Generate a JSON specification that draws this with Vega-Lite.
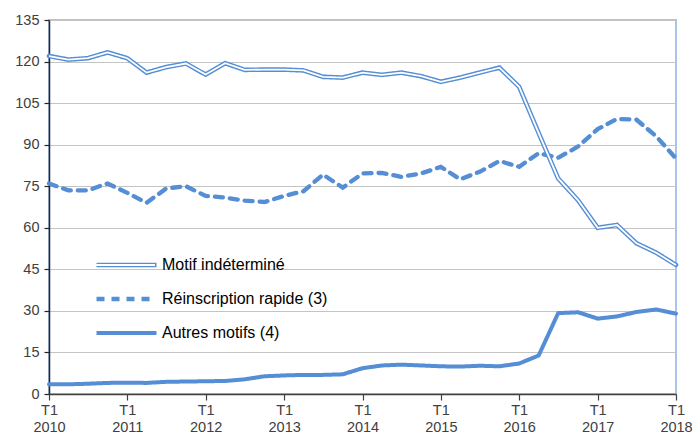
{
  "$schema": "https://vega.github.io/schema/vega-lite/v6.json",
  "width": 627,
  "height": 374,
  "autosize": {"type": "none"},
  "padding": {"left": 49, "top": 20, "right": 20, "bottom": 42},
  "background": "white",
  "config": {
    "font": "Liberation Sans",
    "view": {"stroke": "#a9c3ea", "strokeWidth": 2}
  },
  "data": {
    "values": [
      {"date": "2010-01-01", "Motif indéterminé": 122.0, "Réinscription rapide (3)": 76.0, "Autres motifs (4)": 3.5},
      {"date": "2010-04-01", "Motif indéterminé": 120.7, "Réinscription rapide (3)": 73.5, "Autres motifs (4)": 3.5},
      {"date": "2010-07-01", "Motif indéterminé": 121.2, "Réinscription rapide (3)": 73.5, "Autres motifs (4)": 3.7},
      {"date": "2010-10-01", "Motif indéterminé": 123.3, "Réinscription rapide (3)": 76.0, "Autres motifs (4)": 4.0},
      {"date": "2011-01-01", "Motif indéterminé": 121.2, "Réinscription rapide (3)": 72.6, "Autres motifs (4)": 4.1},
      {"date": "2011-04-01", "Motif indéterminé": 116.0, "Réinscription rapide (3)": 69.0, "Autres motifs (4)": 4.0},
      {"date": "2011-07-01", "Motif indéterminé": 118.0, "Réinscription rapide (3)": 74.2, "Autres motifs (4)": 4.4},
      {"date": "2011-10-01", "Motif indéterminé": 119.3, "Réinscription rapide (3)": 75.0, "Autres motifs (4)": 4.5},
      {"date": "2012-01-01", "Motif indéterminé": 115.3, "Réinscription rapide (3)": 71.5, "Autres motifs (4)": 4.6},
      {"date": "2012-04-01", "Motif indéterminé": 119.4, "Réinscription rapide (3)": 70.9, "Autres motifs (4)": 4.7},
      {"date": "2012-07-01", "Motif indéterminé": 117.0, "Réinscription rapide (3)": 69.8, "Autres motifs (4)": 5.3},
      {"date": "2012-10-01", "Motif indéterminé": 117.1, "Réinscription rapide (3)": 69.3, "Autres motifs (4)": 6.4},
      {"date": "2013-01-01", "Motif indéterminé": 117.1, "Réinscription rapide (3)": 71.5, "Autres motifs (4)": 6.7},
      {"date": "2013-04-01", "Motif indéterminé": 116.8, "Réinscription rapide (3)": 73.2, "Autres motifs (4)": 6.9},
      {"date": "2013-07-01", "Motif indéterminé": 114.5, "Réinscription rapide (3)": 79.2, "Autres motifs (4)": 6.9},
      {"date": "2013-10-01", "Motif indéterminé": 114.2, "Réinscription rapide (3)": 74.5, "Autres motifs (4)": 7.1},
      {"date": "2014-01-01", "Motif indéterminé": 116.0, "Réinscription rapide (3)": 79.6, "Autres motifs (4)": 9.3},
      {"date": "2014-04-01", "Motif indéterminé": 115.2, "Réinscription rapide (3)": 79.8, "Autres motifs (4)": 10.3},
      {"date": "2014-07-01", "Motif indéterminé": 116.0, "Réinscription rapide (3)": 78.4, "Autres motifs (4)": 10.6},
      {"date": "2014-10-01", "Motif indéterminé": 114.7, "Réinscription rapide (3)": 79.6, "Autres motifs (4)": 10.3},
      {"date": "2015-01-01", "Motif indéterminé": 112.7, "Réinscription rapide (3)": 82.0, "Autres motifs (4)": 10.0},
      {"date": "2015-04-01", "Motif indéterminé": 114.2, "Réinscription rapide (3)": 77.5, "Autres motifs (4)": 9.9},
      {"date": "2015-07-01", "Motif indéterminé": 116.0, "Réinscription rapide (3)": 80.2, "Autres motifs (4)": 10.2},
      {"date": "2015-10-01", "Motif indéterminé": 117.8, "Réinscription rapide (3)": 84.1, "Autres motifs (4)": 10.0},
      {"date": "2016-01-01", "Motif indéterminé": 110.9, "Réinscription rapide (3)": 82.0, "Autres motifs (4)": 11.0},
      {"date": "2016-04-01", "Motif indéterminé": 94.2, "Réinscription rapide (3)": 86.9, "Autres motifs (4)": 13.9},
      {"date": "2016-07-01", "Motif indéterminé": 77.8, "Réinscription rapide (3)": 85.3, "Autres motifs (4)": 29.2},
      {"date": "2016-10-01", "Motif indéterminé": 70.0, "Réinscription rapide (3)": 89.3, "Autres motifs (4)": 29.5},
      {"date": "2017-01-01", "Motif indéterminé": 60.0, "Réinscription rapide (3)": 95.6, "Autres motifs (4)": 27.2},
      {"date": "2017-04-01", "Motif indéterminé": 61.0, "Réinscription rapide (3)": 99.3, "Autres motifs (4)": 28.0},
      {"date": "2017-07-01", "Motif indéterminé": 54.4, "Réinscription rapide (3)": 99.0, "Autres motifs (4)": 29.6},
      {"date": "2017-10-01", "Motif indéterminé": 51.0, "Réinscription rapide (3)": 93.0, "Autres motifs (4)": 30.5},
      {"date": "2018-01-01", "Motif indéterminé": 46.6, "Réinscription rapide (3)": 85.0, "Autres motifs (4)": 29.0}
    ]
  },
  "transform": [
    {"fold": ["Motif indéterminé", "Réinscription rapide (3)", "Autres motifs (4)"], "as": ["series", "value"]}
  ],
  "encoding": {
    "x": {
      "field": "date",
      "type": "temporal",
      "scale": {
        "domain": [
          {"year": 2010, "month": 1, "date": 1, "utc": true},
          {"year": 2018, "month": 1, "date": 1, "utc": true}
        ],
        "nice": false
      },
      "axis": {
        "title": null,
        "grid": false,
        "values": [
          {"year": 2010, "month": 1, "date": 1, "utc": true},
          {"year": 2011, "month": 1, "date": 1, "utc": true},
          {"year": 2012, "month": 1, "date": 1, "utc": true},
          {"year": 2013, "month": 1, "date": 1, "utc": true},
          {"year": 2014, "month": 1, "date": 1, "utc": true},
          {"year": 2015, "month": 1, "date": 1, "utc": true},
          {"year": 2016, "month": 1, "date": 1, "utc": true},
          {"year": 2017, "month": 1, "date": 1, "utc": true},
          {"year": 2018, "month": 1, "date": 1, "utc": true}
        ],
        "labelExpr": "['T1', utcFormat(datum.value, '%Y')]",
        "labelAngle": 0,
        "labelFlush": false,
        "labelOverlap": false,
        "labelFontSize": 14.5,
        "labelLineHeight": 17,
        "labelColor": "#404040",
        "labelPadding": 3,
        "domainColor": "#404040",
        "domainWidth": 1.5,
        "tickColor": "#404040",
        "tickSize": 6,
        "tickWidth": 1.2
      }
    },
    "y": {
      "field": "value",
      "type": "quantitative",
      "scale": {"domain": [0, 135], "nice": false},
      "axis": {
        "title": null,
        "values": [0, 15, 30, 45, 60, 75, 90, 105, 120, 135],
        "grid": true,
        "gridColor": "#c4c4c4",
        "gridWidth": 1.2,
        "labelFontSize": 14.5,
        "labelColor": "#404040",
        "labelPadding": 5,
        "domainColor": "#262626",
        "domainWidth": 1.5,
        "tickColor": "#262626",
        "tickSize": 5,
        "tickWidth": 1.2
      }
    }
  },
  "layer": [
    {
      "mark": {"type": "line", "strokeJoin": "miter", "strokeCap": "round"},
      "encoding": {
        "color": {
          "field": "series",
          "type": "nominal",
          "scale": {
            "domain": ["Motif indéterminé", "Réinscription rapide (3)", "Autres motifs (4)"],
            "range": ["#558ed5", "#558ed5", "#558ed5"]
          },
          "legend": {
            "title": null,
            "orient": "none",
            "legendX": 45,
            "legendY": 228,
            "symbolType": "stroke",
            "symbolSize": 3600,
            "symbolStrokeWidth": 4.5,
            "labelFontSize": 16,
            "labelLimit": 400,
            "labelColor": "#000000",
            "labelOffset": 3,
            "clipHeight": 34,
            "rowPadding": 0,
            "padding": 0
          }
        },
        "strokeDash": {
          "field": "series",
          "type": "nominal",
          "scale": {
            "domain": ["Motif indéterminé", "Réinscription rapide (3)", "Autres motifs (4)"],
            "range": [[1, 0], [8, 7], [1, 0]]
          },
          "legend": {
            "title": null,
            "orient": "none",
            "legendX": 45,
            "legendY": 228,
            "symbolType": "stroke",
            "symbolSize": 3600,
            "symbolStrokeWidth": 4.5,
            "labelFontSize": 16,
            "labelLimit": 400,
            "labelColor": "#000000",
            "labelOffset": 3,
            "clipHeight": 34,
            "rowPadding": 0,
            "padding": 0
          }
        },
        "strokeWidth": {
          "field": "series",
          "type": "nominal",
          "scale": {
            "domain": ["Motif indéterminé", "Réinscription rapide (3)", "Autres motifs (4)"],
            "range": [4.6, 4, 4]
          },
          "legend": null
        }
      }
    },
    {
      "transform": [{"filter": "datum.series === 'Motif indéterminé'"}],
      "mark": {"type": "line", "strokeWidth": 1.8, "strokeJoin": "miter"},
      "encoding": {
        "stroke": {
          "field": "series",
          "type": "nominal",
          "scale": {"range": ["#ffffff"]},
          "legend": {
            "title": null,
            "orient": "none",
            "legendX": 45,
            "legendY": 228,
            "symbolType": "stroke",
            "symbolSize": 3600,
            "symbolStrokeWidth": 1.8,
            "labelExpr": "''",
            "labelFontSize": 16,
            "labelOffset": 3,
            "clipHeight": 34,
            "rowPadding": 0,
            "padding": 0
          }
        }
      }
    }
  ]
}
